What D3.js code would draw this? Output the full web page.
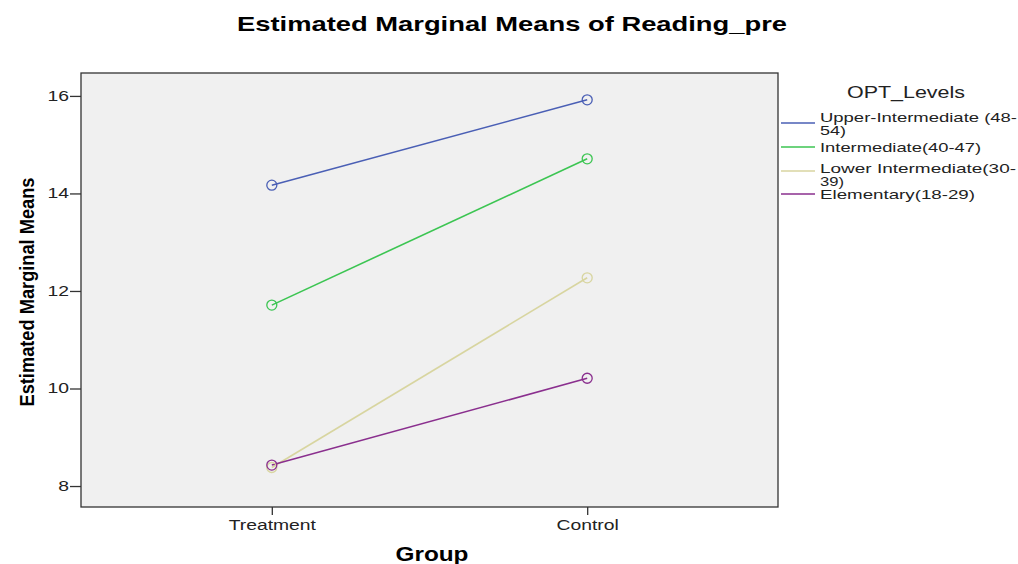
<!DOCTYPE html>
<html><head><meta charset="utf-8">
<script src="https://cdn.jsdelivr.net/npm/d3@7"></script>
<style>body{margin:0;background:#fff}svg{display:block}</style>
</head><body>
<svg id="c" width="1018" height="564"></svg>
<script>
const groups = ["Treatment", "Control"];
const seriesNames = ["Upper-Intermediate (48-54)", "Intermediate(40-47)", "Lower Intermediate(30-39)", "Elementary(18-29)"];
const legendLines = [["Upper-Intermediate (48-", "54)"], ["Intermediate(40-47)"], ["Lower Intermediate(30-", "39)"], ["Elementary(18-29)"]];
const upperValues = [14.17, 15.92];
const intermediateValues = [11.71, 14.71];
const lowerValues = [8.38, 12.27];
const elementaryValues = [8.43, 10.21];
const yTicks = [8, 10, 12, 14, 16];
const colors = ["#4a5fb5", "#3cc552", "#d8d5a0", "#8a2f8e"];
const allSeries = [upperValues, intermediateValues, lowerValues, elementaryValues];

const svg = d3.select("#c");
const L = 81, R = 778, T = 73, B = 507;
const x = d3.scalePoint().domain(groups).range([L, R]).padding(0.605);
const y = d3.scaleLinear().domain([7.57, 16.47]).range([B, T]);

svg.append("rect").attr("x", L).attr("y", T).attr("width", R - L).attr("height", B - T)
  .attr("fill", "#f0f0f0").attr("stroke", "#333").attr("stroke-width", 1.3);

const font = "Liberation Sans, Arial, sans-serif";
const SX = 1.38;
function stretch(sel) {
  sel.each(function () {
    const w = this.getComputedTextLength();
    d3.select(this).attr("textLength", w * SX).attr("lengthAdjust", "spacingAndGlyphs");
  });
}

// y axis
const ya = svg.append("g").attr("transform", `translate(${L},0)`)
  .call(d3.axisLeft(y).tickValues(yTicks).tickSize(11).tickPadding(1));
ya.select(".domain").remove();
ya.selectAll("line").attr("stroke", "#333").attr("stroke-width", 1.3);
ya.selectAll("text").attr("font-family", font).attr("font-size", 14).attr("fill", "#222").call(stretch);

// x axis
const xa = svg.append("g").attr("transform", `translate(0,${B})`)
  .call(d3.axisBottom(x).tickSize(8).tickPadding(5));
xa.select(".domain").remove();
xa.selectAll("line").attr("stroke", "#333").attr("stroke-width", 1.3);
xa.selectAll("text").attr("font-family", font).attr("font-size", 14).attr("fill", "#222").call(stretch);

// series
const line = d3.line().x((d, i) => x(groups[i])).y(d => y(d));
allSeries.forEach((vals, k) => {
  svg.append("path").datum(vals).attr("d", line).attr("fill", "none")
    .attr("stroke", colors[k]).attr("stroke-width", 1.6);
});
allSeries.forEach((vals, k) => {
  svg.selectAll(null).data(vals).enter().append("circle")
    .attr("cx", (d, i) => x(groups[i])).attr("cy", d => y(d)).attr("r", 5)
    .attr("fill", "none").attr("stroke", colors[k]).attr("stroke-width", 1.3);
});

// title
svg.append("text").attr("x", 512).attr("y", 31).attr("text-anchor", "middle")
  .attr("font-family", font).attr("font-weight", "bold").attr("font-size", 20.5)
  .attr("textLength", 550).attr("lengthAdjust", "spacingAndGlyphs")
  .text("Estimated Marginal Means of Reading_pre");

// axis labels
svg.append("text").attr("x", 432).attr("y", 561).attr("text-anchor", "middle")
  .attr("font-family", font).attr("font-weight", "bold").attr("font-size", 19.5)
  .attr("textLength", 73).attr("lengthAdjust", "spacingAndGlyphs").text("Group");
svg.append("text").attr("transform", "translate(34,292) rotate(-90)").attr("text-anchor", "middle")
  .attr("font-family", font).attr("font-weight", "bold").attr("font-size", 21)
  .attr("textLength", 229).attr("lengthAdjust", "spacingAndGlyphs")
  .text("Estimated Marginal Means");

// legend
svg.append("text").attr("x", 906).attr("y", 98).attr("text-anchor", "middle")
  .attr("font-family", font).attr("font-size", 16.5).attr("fill", "#222")
  .attr("textLength", 118).attr("lengthAdjust", "spacingAndGlyphs").text("OPT_Levels");
const legY = [123, 147, 171, 194];
const legTextY = [[122, 135], [152], [173, 186], [199]];
const legTextW = [[197, 26], [161], [196, 24], [155]];
legendLines.forEach((lines, k) => {
  svg.append("line").attr("x1", 781).attr("x2", 815).attr("y1", legY[k]).attr("y2", legY[k])
    .attr("stroke", colors[k]).attr("stroke-width", 1.6);
  lines.forEach((t, j) => {
    svg.append("text").attr("x", 820).attr("y", legTextY[k][j])
      .attr("font-family", font).attr("font-size", 13).attr("fill", "#222")
      .attr("textLength", legTextW[k][j]).attr("lengthAdjust", "spacingAndGlyphs").text(t);
  });
});
</script>
</body></html>
